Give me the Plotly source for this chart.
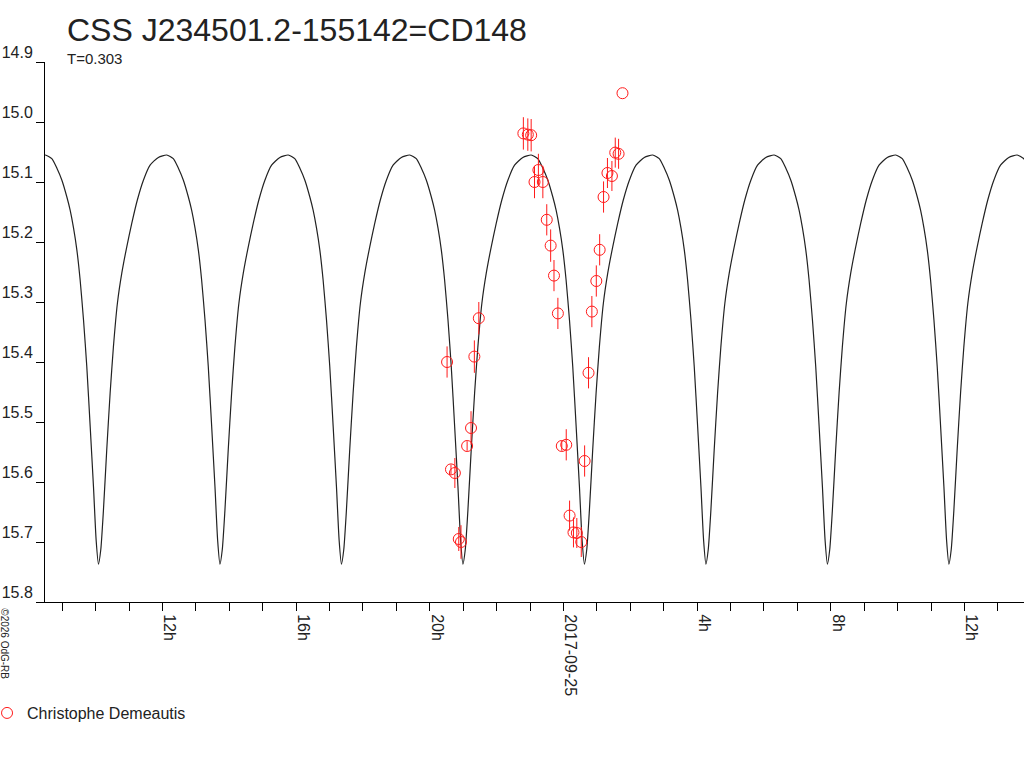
import pandas as pd
import plotly.graph_objects as go

# ---------------------------------------------------------------------------
# Data
# ---------------------------------------------------------------------------

TITLE    = "CSS J234501.2-155142=CD148"
SUBTITLE = "T=0.303"
OBSERVER = "Christophe Demeautis"
CREDIT   = "©2026 OdG-RB"

OBS_TIME = [
    "2017-09-24 20:31", "2017-09-24 20:38", "2017-09-24 20:45", "2017-09-24 20:52",
    "2017-09-24 20:56", "2017-09-24 21:07", "2017-09-24 21:14", "2017-09-24 21:20",
    "2017-09-24 21:28", "2017-09-24 22:48", "2017-09-24 22:56", "2017-09-24 23:02",
    "2017-09-24 23:08", "2017-09-24 23:15", "2017-09-24 23:23", "2017-09-24 23:30",
    "2017-09-24 23:37", "2017-09-24 23:43", "2017-09-24 23:50", "2017-09-24 23:57",
    "2017-09-25 00:05", "2017-09-25 00:11", "2017-09-25 00:18", "2017-09-25 00:24",
    "2017-09-25 00:32", "2017-09-25 00:38", "2017-09-25 00:45", "2017-09-25 00:51",
    "2017-09-25 00:59", "2017-09-25 01:05", "2017-09-25 01:12", "2017-09-25 01:19",
    "2017-09-25 01:27", "2017-09-25 01:33", "2017-09-25 01:39", "2017-09-25 01:46",
]
OBS_MAG = [
    15.400, 15.579, 15.585, 15.695, 15.700, 15.540, 15.510, 15.391, 15.327,
    15.019, 15.021, 15.022, 15.100, 15.080, 15.100, 15.163, 15.206, 15.256,
    15.319, 15.540, 15.538, 15.656, 15.684, 15.685, 15.700, 15.565, 15.418,
    15.316, 15.265, 15.213, 15.125, 15.085, 15.090, 15.051, 15.053, 14.952,
]
OBS_ERR = [
    0.026, 0.008, 0.025, 0.020, 0.028, 0.008, 0.028, 0.027, 0.027,
    0.027, 0.027, 0.027, 0.027, 0.027, 0.027, 0.026, 0.027, 0.026,
    0.026, 0.008, 0.026, 0.025, 0.025, 0.025, 0.025, 0.026, 0.026,
    0.026, 0.026, 0.026, 0.026, 0.025, 0.025, 0.025, 0.025, 0.000,
]

# model light curve, one cycle (phase 0 = minimum), repeats every half period
MODEL_PHASE = [
    -0.438, -0.384, -0.342, -0.301, -0.260, -0.233, -0.205, -0.178, -0.151,
    -0.123, -0.096, -0.068, -0.041, -0.019, 0.000, 0.019, 0.041, 0.068,
    0.096, 0.123, 0.156, 0.192, 0.233, 0.274, 0.320, 0.370, 0.425, 0.493,
]
MODEL_MAG = [
    15.055, 15.061, 15.077, 15.097, 15.125, 15.147, 15.177, 15.213, 15.263,
    15.330, 15.408, 15.508, 15.608, 15.697, 15.737, 15.713, 15.647, 15.547,
    15.452, 15.375, 15.302, 15.252, 15.208, 15.169, 15.130, 15.097, 15.072, 15.059,
]
MIN_EPOCH        = "2017-09-24 10:05"
HALF_PERIOD_DAYS = 0.1515

X_RANGE = ["2017-09-24 08:29", "2017-09-25 13:47"]
Y_RANGE = [15.8, 14.9]

TICK_START = "2017-09-24 09:00"
TICK_LABELS = [
    "", "", "", "12h", "", "", "", "16h", "", "", "", "20h", "", "", "",
    "2017-09-25", "", "", "", "4h", "", "", "", "8h", "", "", "", "12h", "",
]

RED  = "#ff1a1a"
INK  = "#222222"
FONT = "Arial, Liberation Sans, sans-serif"

# ---------------------------------------------------------------------------
# Model curve: repeat the cycle over the plotted span
# ---------------------------------------------------------------------------

epoch = pd.Timestamp(MIN_EPOCH)
half  = pd.Timedelta(days=HALF_PERIOD_DAYS)
model_t, model_m = [], []
for k in range(-1, 10):
    for ph, mg in zip(MODEL_PHASE, MODEL_MAG):
        model_t.append(epoch + (k + ph) * half)
        model_m.append(mg)

tick_vals = pd.date_range(TICK_START, periods=len(TICK_LABELS), freq="h")

# ---------------------------------------------------------------------------
# Figure
# ---------------------------------------------------------------------------

fig = go.Figure()

fig.add_trace(go.Scatter(
    x=model_t, y=model_m,
    mode="lines",
    line=dict(color=INK, width=1.2, shape="spline", smoothing=0.6),
    showlegend=False, hoverinfo="skip",
))

fig.add_trace(go.Scatter(
    x=pd.to_datetime(OBS_TIME), y=OBS_MAG,
    mode="markers",
    marker=dict(symbol="circle-open", size=11, color=RED, line=dict(width=1)),
    error_y=dict(type="data", array=OBS_ERR, color=RED, thickness=1, width=0),
    name=OBSERVER,
))

fig.update_xaxes(
    range=X_RANGE, automargin=False,
    tickvals=tick_vals, ticktext=TICK_LABELS,
    tickangle=90, ticks="outside", ticklen=8, tickwidth=1, tickcolor="black",
    ticklabelshift=7,
    showline=True, linecolor="black", linewidth=1,
    showgrid=False, zeroline=False,
    tickfont=dict(size=16, color=INK),
)
fig.update_yaxes(
    range=Y_RANGE, dtick=0.1, tickformat=".1f", automargin=False,
    ticks="outside", ticklen=8, tickwidth=1, tickcolor="black",
    ticklabelshift=10,
    showline=True, linecolor="black", linewidth=1,
    showgrid=False, zeroline=False,
    tickfont=dict(size=16, color=INK),
)

fig.add_annotation(
    text=TITLE, xref="paper", yref="paper", x=0.0204, y=1.059,
    xanchor="left", yanchor="middle", showarrow=False,
    font=dict(size=32, color=INK),
)
fig.add_annotation(
    text=SUBTITLE, xref="paper", yref="paper", x=0.0204, y=1.0074,
    xanchor="left", yanchor="middle", showarrow=False,
    font=dict(size=15, color=INK),
)
fig.add_annotation(
    text=CREDIT, xref="paper", yref="paper", x=-0.041, y=-0.078,
    xanchor="center", yanchor="middle", showarrow=False, textangle=90,
    font=dict(size=10, color=INK),
)

fig.update_layout(
    width=1024, height=768,
    margin=dict(l=45, r=0, t=62, b=166),
    plot_bgcolor="white", paper_bgcolor="white",
    font=dict(family=FONT, size=16, color=INK),
    legend=dict(
        x=-0.0449, y=-0.2056, xanchor="left", yanchor="middle",
        indentation=-14,
        font=dict(size=16, color=INK), bgcolor="rgba(0,0,0,0)",
    ),
    showlegend=True,
)

fig.write_html(
    "out.html",
    config={"displayModeBar": False},
    post_script="document.body.style.margin='0px';",
)
